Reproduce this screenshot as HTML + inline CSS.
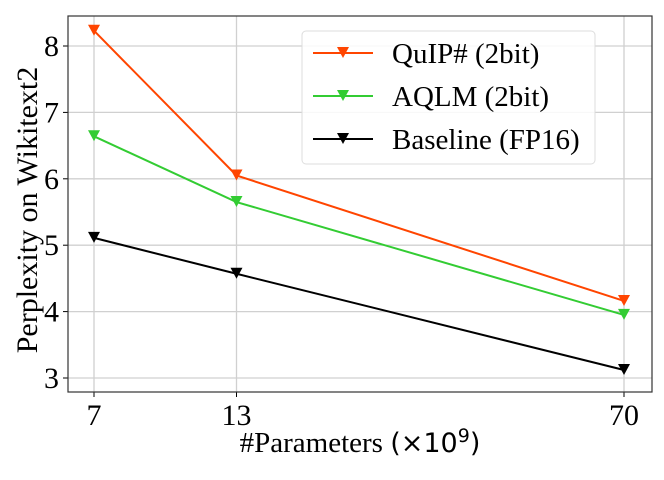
<!DOCTYPE html>
<html><head><meta charset="utf-8"><style>
body{margin:0;background:#fff}
svg text{font-family:"Liberation Serif",serif;fill:#000}
</style></head><body>
<svg id="c" width="664" height="475" xmlns="http://www.w3.org/2000/svg"></svg>
<script>
const categories=[7,13,70];
const quip=[8.23,6.05,4.16];
const aqlm=[6.64,5.65,3.95];
const baseline=[5.11,4.57,3.12];
const yTicks=[3,4,5,6,7,8];
const xTickLabels=["7","13","70"];
const NS="http://www.w3.org/2000/svg";
const svg=document.getElementById('c');
const L=68,R=652,T=16,B=392;
function x(v){const a=Math.log10(7),b=Math.log10(70);return 94+(Math.log10(v)-a)/(b-a)*(624-94);}
function y(v){return 378-(v-3)*66.4;}
function el(t,a,p){const e=document.createElementNS(NS,t);for(const k in a)e.setAttribute(k,a[k]);(p||svg).appendChild(e);return e;}
yTicks.forEach(v=>{const g=el('line',{x1:L,x2:R,y1:y(v),y2:y(v),stroke:'#d0d0d0','stroke-width':1.3});


el('line',{x1:L-5,x2:L,y1:y(v),y2:y(v),stroke:'#000'});
const t=el('text',{x:L-9,y:y(v)+10,'text-anchor':'end','font-size':30});t.textContent=v;

});
categories.forEach((c,i)=>{const g=el('line',{x1:x(c),x2:x(c),y1:T,y2:B,stroke:'#d0d0d0','stroke-width':1.3});


el('line',{x1:x(c),x2:x(c),y1:B,y2:B+5,stroke:'#000'});
const t=el('text',{x:x(c),y:B+33,'text-anchor':'middle','font-size':30});t.textContent=xTickLabels[i];

});
const fr=el('rect',{x:L,y:T,width:R-L,height:B-T,fill:'none',stroke:'#333','stroke-width':1.2});


function tri(px,py,col,name){const p=el('path',{d:`M${px-6},${py-6}L${px+6},${py-6}L${px},${py+5}Z`,fill:col});

}
function series(vals,col,name){const pl=el('polyline',{points:vals.map((v,i)=>x(categories[i])+','+y(v)).join(' '),fill:'none',stroke:col,'stroke-width':2});


vals.forEach((v,i)=>tri(x(categories[i]),y(v),col,name+'-point'));}
series(baseline,'#000','baseline');
series(aqlm,'#33cc33','aqlm');
series(quip,'#ff4500','quip');
const lg=el('rect',{x:302,y:31,width:293,height:133,rx:4,fill:'#fff','fill-opacity':0.85,stroke:'#ddd'});


[["QuIP# (2bit)",'#ff4500',67],["AQLM (2bit)",'#33cc33',110],["Baseline (FP16)",'#000',153]].forEach(([lab,col,ly])=>{
el('line',{x1:313,x2:373,y1:ly-14,y2:ly-14,stroke:col,'stroke-width':2});tri(343,ly-14,col,'legend-marker');
const t=el('text',{x:392,y:ly-4,'font-size':29});t.textContent=lab;

});
const xt=el('text',{x:360,y:452,'text-anchor':'middle','font-size':29});
xt.innerHTML='#Parameters <tspan font-family="DejaVu Sans" font-size="27">(×10<tspan dy="-10" font-size="19">9</tspan><tspan dy="10">)</tspan></tspan>';


const yt=el('text',{x:0,y:0,'text-anchor':'middle','font-size':30,transform:'translate(37,210) rotate(-90)'});yt.textContent='Perplexity on Wikitext2';


</script>
</body></html>
